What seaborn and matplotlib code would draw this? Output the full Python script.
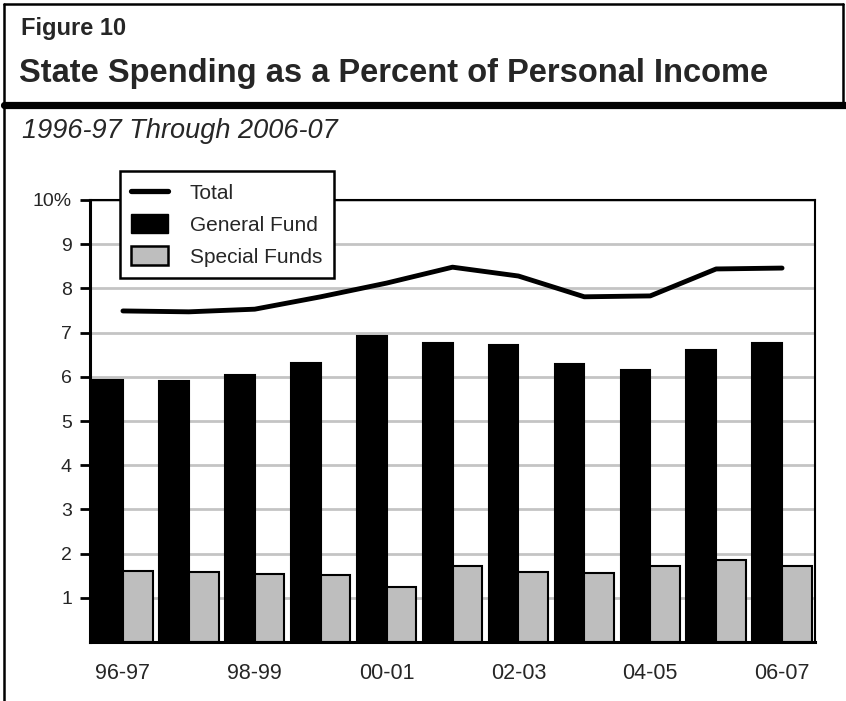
import numpy as np
import pandas as pd
import seaborn as sns
import matplotlib
matplotlib.use("Agg")
import matplotlib.pyplot as plt
from matplotlib.lines import Line2D
from matplotlib.patches import Patch

years = ["96-97", "97-98", "98-99", "99-00", "00-01", "01-02",
         "02-03", "03-04", "04-05", "05-06", "06-07"]
general_fund = [5.93, 5.91, 6.04, 6.31, 6.92, 6.76, 6.72, 6.29, 6.15, 6.60, 6.76]
special_funds = [1.60, 1.59, 1.54, 1.51, 1.24, 1.72, 1.58, 1.55, 1.71, 1.85, 1.73]
total = [7.49, 7.47, 7.53, 7.81, 8.12, 8.48, 8.28, 7.81, 7.83, 8.44, 8.46]
shown_labels = ["96-97", "98-99", "00-01", "02-03", "04-05", "06-07"]

sns.set_theme(style="white")
plt.rcParams["font.family"] = ["Liberation Sans", "DejaVu Sans"]

df = pd.DataFrame({
    "year": years * 2,
    "fund": ["General Fund"] * len(years) + ["Special Funds"] * len(years),
    "pct": general_fund + special_funds,
})

W, H = 846, 701
fig = plt.figure(figsize=(W / 100, H / 100), dpi=100)
ax = fig.add_axes([90 / W, 1 - 642 / H, (815 - 90) / W, (642 - 200) / H])

ax.yaxis.grid(True, color="#c4c4c4", lw=2, zorder=0)
ax.set_axisbelow(True)

sns.barplot(data=df, x="year", y="pct", hue="fund", order=years,
            palette=["black", "#bebebe"], width=0.9, edgecolor="black",
            linewidth=1.5, legend=False, ax=ax, zorder=2)

sns.lineplot(x=np.arange(len(years)), y=total, color="black", lw=3.5, ax=ax, zorder=3)

ax.set_xlim(-0.5, len(years) - 0.5)
ax.set_ylim(0, 10)
ax.set_yticks(range(1, 11))
ax.set_yticklabels([str(i) for i in range(1, 10)] + ["10%"], fontsize=14)
ax.set_xticks(range(len(years)))
ax.set_xticklabels([y if y in shown_labels else "" for y in years], fontsize=15.5)
ax.tick_params(axis="y", direction="out", length=7, width=2, color="black", pad=6, left=True)
ax.tick_params(axis="x", length=0, pad=15)
ax.set_xlabel("")
ax.set_ylabel("")
for side in ["top", "right"]:
    ax.spines[side].set_visible(True)
    ax.spines[side].set_color("black")
    ax.spines[side].set_linewidth(1.5)
for side in ["left", "bottom"]:
    ax.spines[side].set_color("black")
    ax.spines[side].set_linewidth(2.2)

handles = [
    Line2D([0], [0], color="black", lw=3.8),
    Patch(facecolor="black", edgecolor="black"),
    Patch(facecolor="#bebebe", edgecolor="black", linewidth=1.8),
]
leg = fig.legend(handles, ["Total", "General Fund", "Special Funds"],
                 loc="upper left", bbox_to_anchor=(120 / W, 1 - 171 / H),
                 borderaxespad=0, fontsize=15, frameon=True, fancybox=False,
                 framealpha=1, edgecolor="black", handlelength=1.75,
                 handleheight=1.0, labelspacing=0.55, borderpad=0.55,
                 handletextpad=1.05)
leg.get_frame().set_linewidth(1.8)

# frame around the figure
def fx(px):
    return px / W

def fy(py):
    return 1 - py / H

fig.add_artist(Line2D([fx(4), fx(4)], [fy(4), fy(701)], color="black", lw=1.8))
fig.add_artist(Line2D([fx(4), fx(843)], [fy(4), fy(4)], color="black", lw=1.8))
fig.add_artist(Line2D([fx(843), fx(843)], [fy(4), fy(104)], color="black", lw=1.8))
fig.add_artist(Line2D([fx(4), fx(846)], [fy(104.5), fy(104.5)], color="black", lw=5.2))

fig.text(fx(21), fy(35), "Figure 10", fontsize=17, fontweight="bold", va="baseline", ha="left")
fig.text(fx(19), fy(82), "State Spending as a Percent of Personal Income",
         fontsize=23.5, fontweight="bold", va="baseline", ha="left")
fig.text(fx(22), fy(138), "1996-97 Through 2006-07", fontsize=19.5, style="italic",
         va="baseline", ha="left")

fig.savefig("out.png", dpi=100)
